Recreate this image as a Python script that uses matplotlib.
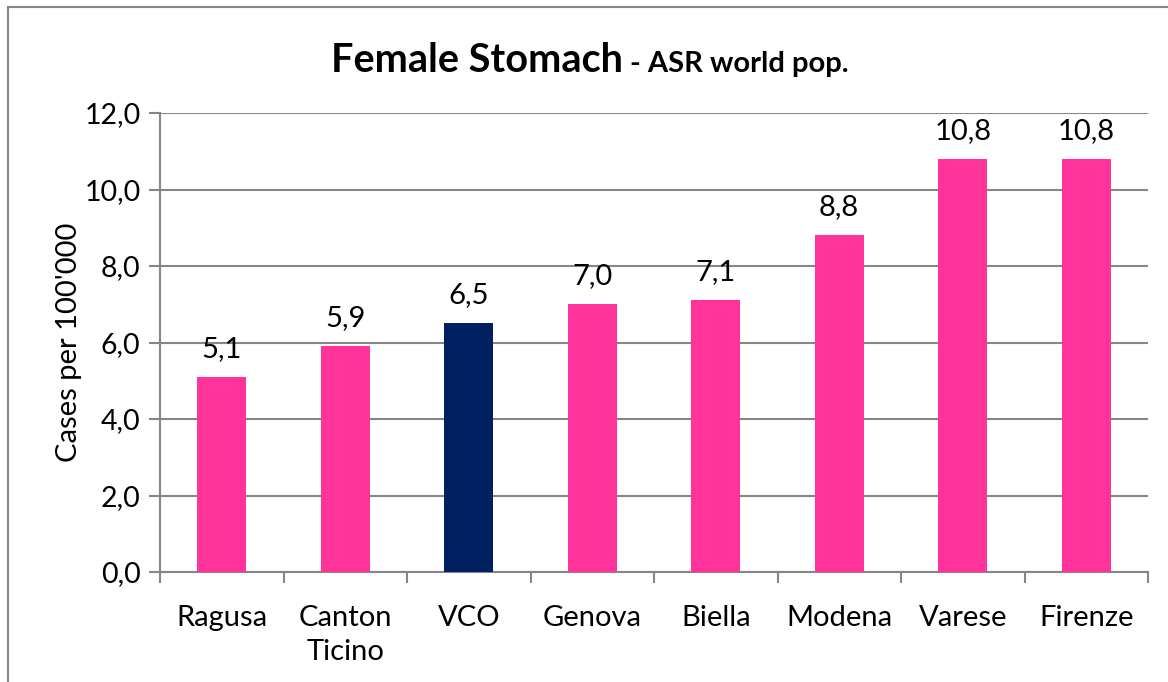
import matplotlib.pyplot as plt
from matplotlib.patches import Rectangle
import numpy as np

plt.rcParams["font.family"] = ["Lato", "DejaVu Sans"]

categories = ["Ragusa", "Canton\nTicino", "VCO", "Genova", "Biella", "Modena", "Varese", "Firenze"]
values = [5.1, 5.9, 6.5, 7.0, 7.1, 8.8, 10.8, 10.8]
highlight = "VCO"
y_ticks = [0, 2, 4, 6, 8, 10, 12]

PINK = "#FF3399"
NAVY = "#002060"
GRID = "#868686"

fig = plt.figure(figsize=(11.68, 6.82), dpi=100)
ax = fig.add_axes([160 / 1168, 1 - 572 / 682, (1148 - 160) / 1168, (572 - 113) / 682])

x = np.arange(len(categories))
colors = [NAVY if c == highlight else PINK for c in categories]
ax.bar(x, values, width=0.4, color=colors, zorder=3)

for xi, v in zip(x, values):
    ax.annotate(f"{v:.1f}".replace(".", ","), (xi, v), xytext=(0, 11),
                textcoords="offset points", ha="center", va="bottom", fontsize=21)

ax.set_xlim(-0.5, len(categories) - 0.5)
ax.set_ylim(0, 12)
ax.set_yticks(y_ticks)
ax.set_yticklabels([f"{t:.1f}".replace(".", ",") for t in y_ticks], fontsize=20.5)
ax.yaxis.grid(True, color=GRID, linewidth=1.5, zorder=0)
ax.set_axisbelow(True)

ax.set_xticks(x)
ax.set_xticklabels(categories, fontsize=21, linespacing=1.38)
ax.tick_params(axis="x", length=0, pad=24)
ax.set_xticks(np.arange(len(categories) + 1) - 0.5, minor=True)
ax.tick_params(axis="x", which="minor", length=8, width=1.5, color=GRID)
ax.tick_params(axis="y", length=8, width=1.5, color=GRID, pad=6)

for side in ["top", "right"]:
    ax.spines[side].set_visible(False)
for side in ["left", "bottom"]:
    ax.spines[side].set_color(GRID)
    ax.spines[side].set_linewidth(1.5)

ax.set_ylabel("Cases per 100'000", fontsize=21, labelpad=2)

fig.text(623 / 1168, 1 - 72 / 682, "Female Stomach", fontsize=28.5, fontweight="bold",
         ha="right", va="baseline")
fig.text(630 / 1168, 1 - 72 / 682, "- ASR world pop.", fontsize=21, fontweight="bold",
         ha="left", va="baseline")

fig.patches.append(Rectangle((8 / 1168, -0.1), 1.2, 1 - 7 / 682 + 0.1, transform=fig.transFigure,
                             fill=False, edgecolor=GRID, linewidth=1.5))

fig.savefig("out.png", dpi=100)
